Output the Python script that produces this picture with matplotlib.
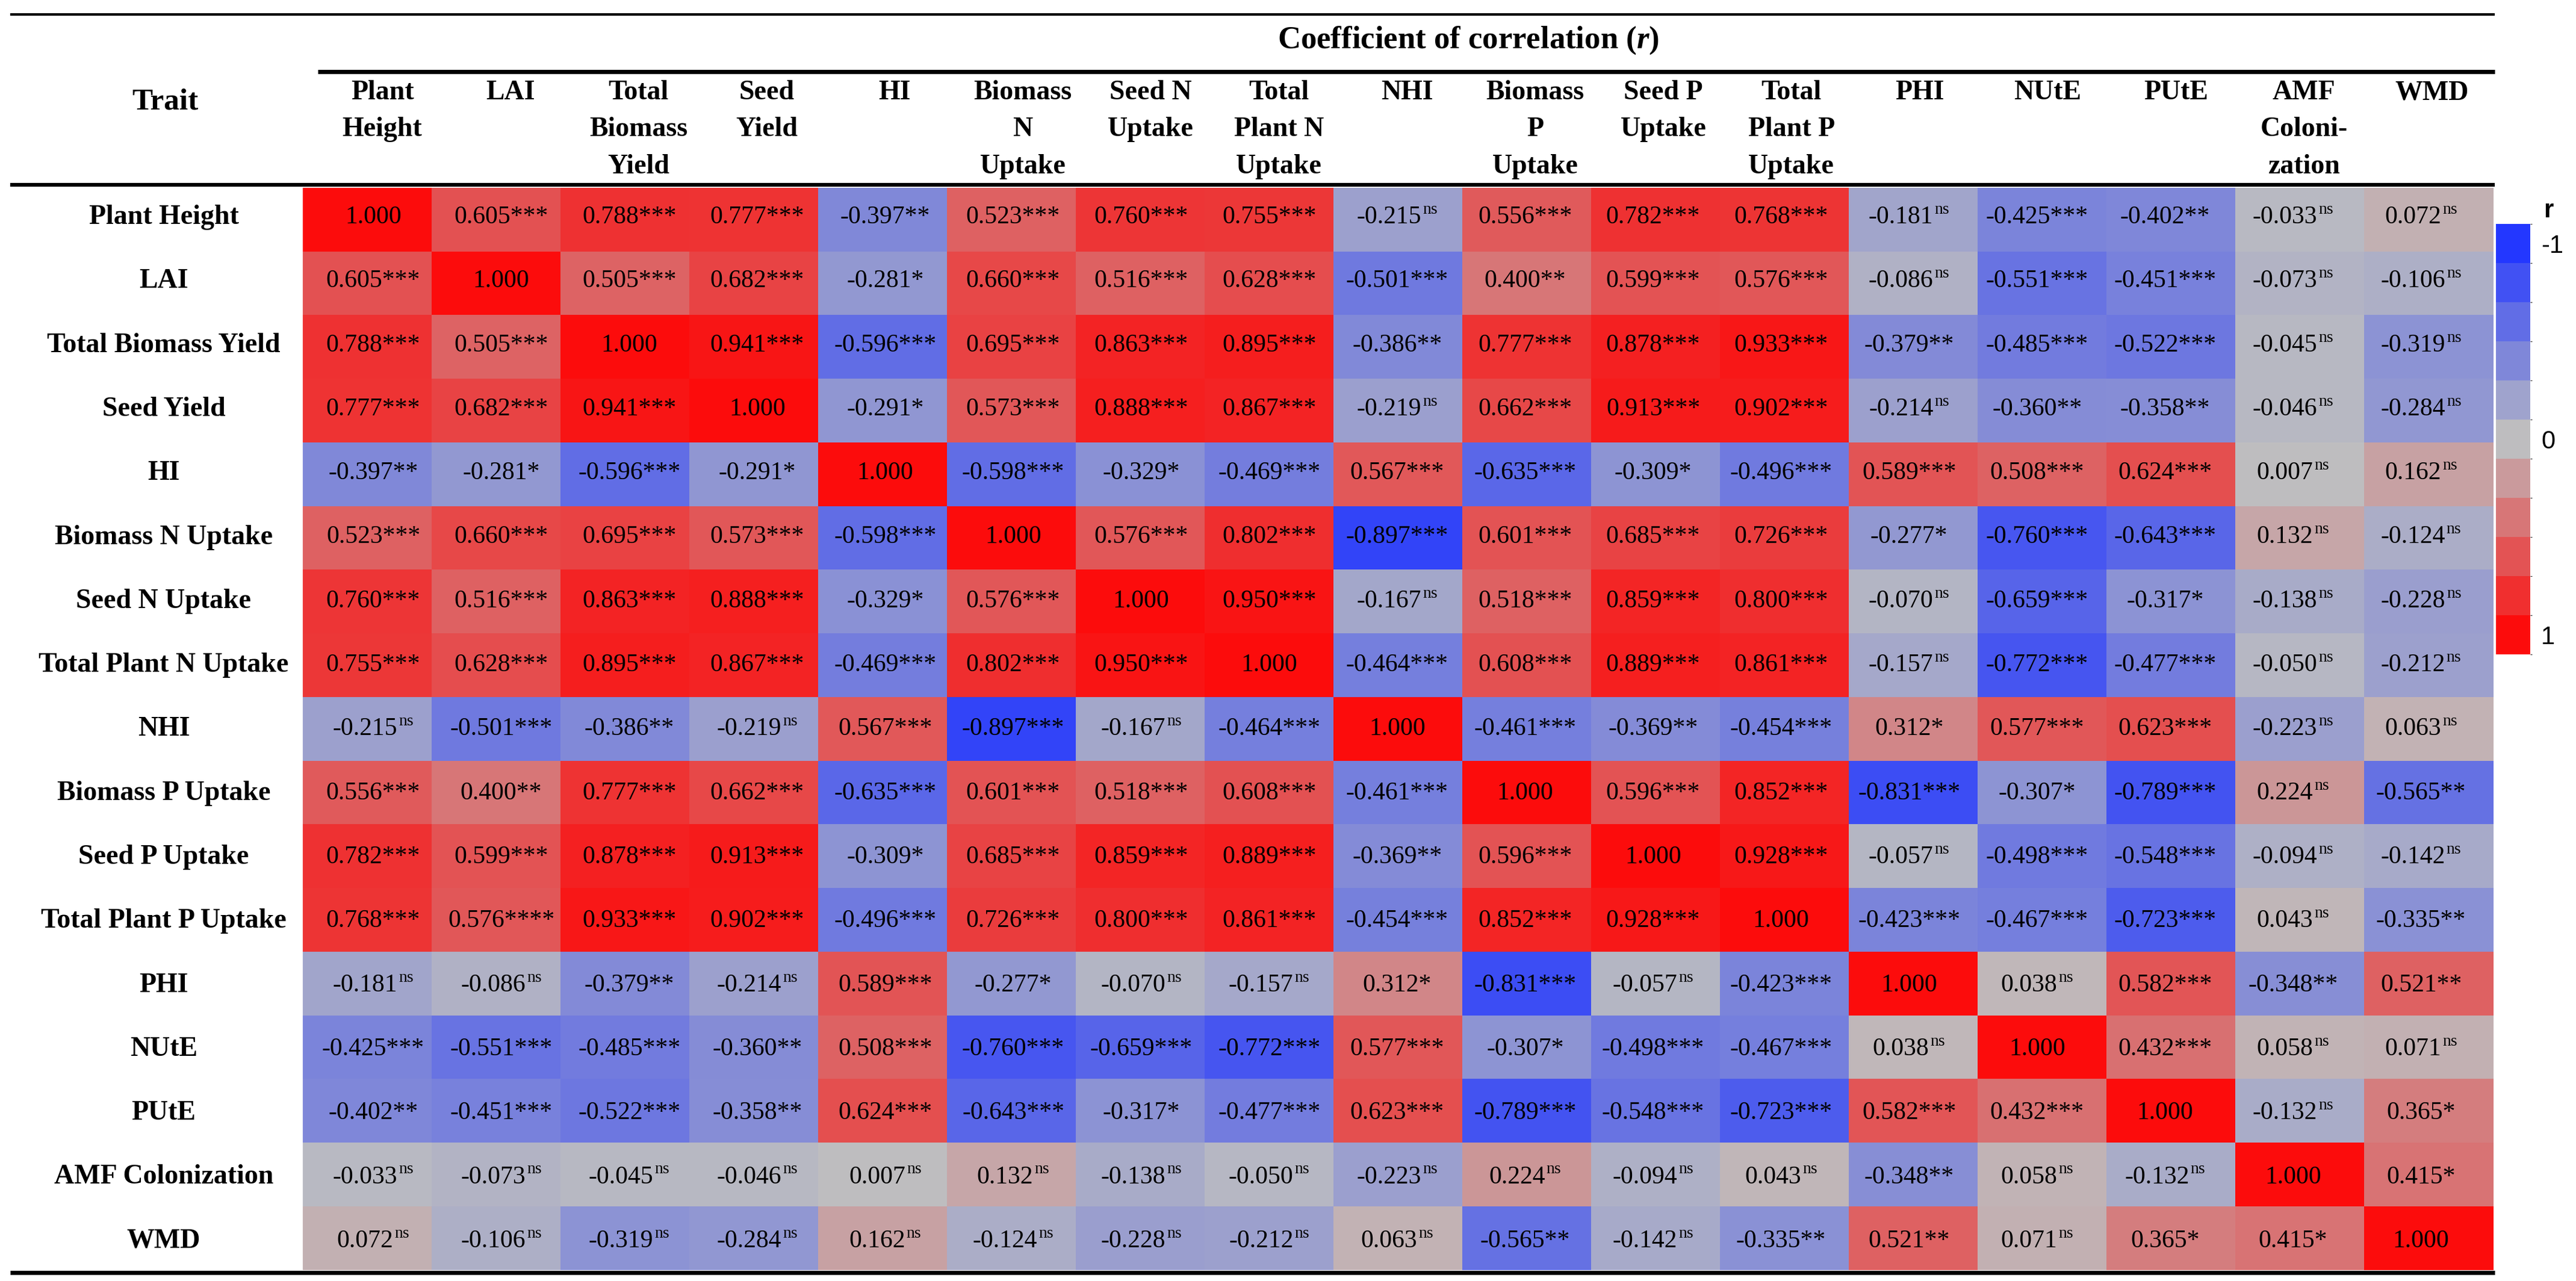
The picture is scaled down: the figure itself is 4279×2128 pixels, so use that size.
import numpy as np
import matplotlib
matplotlib.use("Agg")
import matplotlib.pyplot as plt
from matplotlib.colors import LinearSegmentedColormap, ListedColormap, BoundaryNorm
from matplotlib.cm import ScalarMappable

plt.rcParams['axes.unicode_minus'] = False
plt.rcParams['mathtext.fontset'] = 'custom'
plt.rcParams['mathtext.rm'] = 'Liberation Serif:bold'
plt.rcParams['mathtext.it'] = 'Liberation Serif:italic:bold'

traits = ["Plant Height", "LAI", "Total Biomass Yield", "Seed Yield", "HI",
          "Biomass N Uptake", "Seed N Uptake", "Total Plant N Uptake", "NHI",
          "Biomass P Uptake", "Seed P Uptake", "Total Plant P Uptake", "PHI",
          "NUtE", "PUtE", "AMF Colonization", "WMD"]

col_labels = ["Plant\nHeight", "LAI", "Total\nBiomass\nYield", "Seed\nYield", "HI",
              "Biomass\nN\nUptake", "Seed N\nUptake", "Total\nPlant N\nUptake", "NHI",
              "Biomass\nP\nUptake", "Seed P\nUptake", "Total\nPlant P\nUptake", "PHI",
              "NUtE", "PUtE", "AMF\nColoni-\nzation", "WMD"]

r_values = [
    [1.000, 0.605, 0.788, 0.777, -0.397, 0.523, 0.760, 0.755, -0.215, 0.556, 0.782, 0.768, -0.181, -0.425, -0.402, -0.033, 0.072],
    [0.605, 1.000, 0.505, 0.682, -0.281, 0.660, 0.516, 0.628, -0.501, 0.400, 0.599, 0.576, -0.086, -0.551, -0.451, -0.073, -0.106],
    [0.788, 0.505, 1.000, 0.941, -0.596, 0.695, 0.863, 0.895, -0.386, 0.777, 0.878, 0.933, -0.379, -0.485, -0.522, -0.045, -0.319],
    [0.777, 0.682, 0.941, 1.000, -0.291, 0.573, 0.888, 0.867, -0.219, 0.662, 0.913, 0.902, -0.214, -0.360, -0.358, -0.046, -0.284],
    [-0.397, -0.281, -0.596, -0.291, 1.000, -0.598, -0.329, -0.469, 0.567, -0.635, -0.309, -0.496, 0.589, 0.508, 0.624, 0.007, 0.162],
    [0.523, 0.660, 0.695, 0.573, -0.598, 1.000, 0.576, 0.802, -0.897, 0.601, 0.685, 0.726, -0.277, -0.760, -0.643, 0.132, -0.124],
    [0.760, 0.516, 0.863, 0.888, -0.329, 0.576, 1.000, 0.950, -0.167, 0.518, 0.859, 0.800, -0.070, -0.659, -0.317, -0.138, -0.228],
    [0.755, 0.628, 0.895, 0.867, -0.469, 0.802, 0.950, 1.000, -0.464, 0.608, 0.889, 0.861, -0.157, -0.772, -0.477, -0.050, -0.212],
    [-0.215, -0.501, -0.386, -0.219, 0.567, -0.897, -0.167, -0.464, 1.000, -0.461, -0.369, -0.454, 0.312, 0.577, 0.623, -0.223, 0.063],
    [0.556, 0.400, 0.777, 0.662, -0.635, 0.601, 0.518, 0.608, -0.461, 1.000, 0.596, 0.852, -0.831, -0.307, -0.789, 0.224, -0.565],
    [0.782, 0.599, 0.878, 0.913, -0.309, 0.685, 0.859, 0.889, -0.369, 0.596, 1.000, 0.928, -0.057, -0.498, -0.548, -0.094, -0.142],
    [0.768, 0.576, 0.933, 0.902, -0.496, 0.726, 0.800, 0.861, -0.454, 0.852, 0.928, 1.000, -0.423, -0.467, -0.723, 0.043, -0.335],
    [-0.181, -0.086, -0.379, -0.214, 0.589, -0.277, -0.070, -0.157, 0.312, -0.831, -0.057, -0.423, 1.000, 0.038, 0.582, -0.348, 0.521],
    [-0.425, -0.551, -0.485, -0.360, 0.508, -0.760, -0.659, -0.772, 0.577, -0.307, -0.498, -0.467, 0.038, 1.000, 0.432, 0.058, 0.071],
    [-0.402, -0.451, -0.522, -0.358, 0.624, -0.643, -0.317, -0.477, 0.623, -0.789, -0.548, -0.723, 0.582, 0.432, 1.000, -0.132, 0.365],
    [-0.033, -0.073, -0.045, -0.046, 0.007, 0.132, -0.138, -0.050, -0.223, 0.224, -0.094, 0.043, -0.348, 0.058, -0.132, 1.000, 0.415],
    [0.072, -0.106, -0.319, -0.284, 0.162, -0.124, -0.228, -0.212, 0.063, -0.565, -0.142, -0.335, 0.521, 0.071, 0.365, 0.415, 1.000],
]

signif = [
    ["", "***", "***", "***", "**", "***", "***", "***", "ns", "***", "***", "***", "ns", "***", "**", "ns", "ns"],
    ["***", "", "***", "***", "*", "***", "***", "***", "***", "**", "***", "***", "ns", "***", "***", "ns", "ns"],
    ["***", "***", "", "***", "***", "***", "***", "***", "**", "***", "***", "***", "**", "***", "***", "ns", "ns"],
    ["***", "***", "***", "", "*", "***", "***", "***", "ns", "***", "***", "***", "ns", "**", "**", "ns", "ns"],
    ["**", "*", "***", "*", "", "***", "*", "***", "***", "***", "*", "***", "***", "***", "***", "ns", "ns"],
    ["***", "***", "***", "***", "***", "", "***", "***", "***", "***", "***", "***", "*", "***", "***", "ns", "ns"],
    ["***", "***", "***", "***", "*", "***", "", "***", "ns", "***", "***", "***", "ns", "***", "*", "ns", "ns"],
    ["***", "***", "***", "***", "***", "***", "***", "", "***", "***", "***", "***", "ns", "***", "***", "ns", "ns"],
    ["ns", "***", "**", "ns", "***", "***", "ns", "***", "", "***", "**", "***", "*", "***", "***", "ns", "ns"],
    ["***", "**", "***", "***", "***", "***", "***", "***", "***", "", "***", "***", "***", "*", "***", "ns", "**"],
    ["***", "***", "***", "***", "*", "***", "***", "***", "**", "***", "", "***", "ns", "***", "***", "ns", "ns"],
    ["***", "****", "***", "***", "***", "***", "***", "***", "***", "***", "***", "", "***", "***", "***", "ns", "**"],
    ["ns", "ns", "**", "ns", "***", "*", "ns", "ns", "*", "***", "ns", "***", "", "ns", "***", "**", "**"],
    ["***", "***", "***", "**", "***", "***", "***", "***", "***", "*", "***", "***", "ns", "", "***", "ns", "ns"],
    ["**", "***", "***", "**", "***", "***", "*", "***", "***", "***", "***", "***", "***", "***", "", "ns", "*"],
    ["ns", "ns", "ns", "ns", "ns", "ns", "ns", "ns", "ns", "ns", "ns", "ns", "**", "ns", "ns", "", "*"],
    ["ns", "ns", "ns", "ns", "ns", "ns", "ns", "ns", "ns", "**", "ns", "**", "**", "ns", "*", "*", ""],
]

SERIF = "Liberation Serif"
SANS = "Liberation Sans"
W, H = 4279, 2128
n = len(traits)

fig = plt.figure(figsize=(W / 100, H / 100), dpi=100)

cmap = LinearSegmentedColormap.from_list(
    "corr", [(0.0, "#2337ff"), (0.5, "#bebec0"), (1.0, "#fc0c0c")])

# heatmap cells
ax = fig.add_axes([503 / W, 1 - 2110 / H, (4142 - 503) / W, (2110 - 312) / H])
ax.imshow(np.array(r_values), cmap=cmap, vmin=-1, vmax=1, aspect="auto",
          interpolation="nearest", extent=(0, n, n, 0))
ax.set_axis_off()

# overlay in pixel units for the table text and rules
ov = fig.add_axes([0, 0, 1, 1], zorder=5)
ov.set_xlim(0, W)
ov.set_ylim(H, 0)
ov.set_axis_off()

ov.plot([17, 4144], [24, 24], color="black", lw=3, solid_capstyle="butt")
ov.plot([528, 4144], [119, 119], color="black", lw=5, solid_capstyle="butt")
ov.plot([17, 4144], [307, 307], color="black", lw=4.5, solid_capstyle="butt")
ov.plot([17, 4144], [2114, 2114], color="black", lw=5, solid_capstyle="butt")

ov.text(2439, 80, r"Coefficient of correlation ($\mathit{r}$)", ha="center",
        va="baseline", fontsize=38, fontweight="bold", family=SERIF)
ov.text(274, 182, "Trait", ha="center", va="baseline", fontsize=37,
        fontweight="bold", family=SERIF)

for j, lab in enumerate(col_labels):
    for k, line in enumerate(lab.split("\n")):
        ov.text(635 + j * 212.8, 165 + k * 61.5, line, ha="center", va="baseline",
                fontsize=33, fontweight="bold", family=SERIF)

for i, name in enumerate(traits):
    ov.text(272, 372 + i * 106.3, name, ha="center", va="baseline",
            fontsize=33, fontweight="bold", family=SERIF)

for i in range(n):
    for j in range(n):
        v = r_values[i][j]
        s = signif[i][j]
        cx = 620 + j * 212.6
        by = 371 + i * 106.3
        if s == "ns":
            t = ov.text(cx - 13.5, by, f"{v:.3f}", ha="center", va="baseline",
                        fontsize=30, family=SERIF)
            ov.annotate("ns", xy=(1, 1), xycoords=t, xytext=(1.5, 4),
                        textcoords="offset points", ha="left", va="top",
                        fontsize=20, family=SERIF)
        else:
            ov.text(cx, by, f"{v:.3f}{s}", ha="center", va="baseline",
                    fontsize=30, family=SERIF)

# stepped colour key
cax = fig.add_axes([4146 / W, 1 - 1087 / H, 57 / W, 715 / H])
levels = np.linspace(-1.1, 1.1, 12)
key_cmap = ListedColormap(cmap(np.linspace(0, 1, 11)))
cb = fig.colorbar(ScalarMappable(norm=BoundaryNorm(levels, 11), cmap=key_cmap),
                  cax=cax, ticks=[-1, 0, 1])
cb.outline.set_visible(False)
cax.invert_yaxis()
cax.tick_params(length=0, pad=13, labelsize=30)
for lbl in cax.get_yticklabels():
    lbl.set_family(SANS)
ov.text(4225, 350, "r", ha="left", va="center", fontsize=30,
        fontweight="bold", family=SANS)

fig.savefig("out.png", dpi=100)
